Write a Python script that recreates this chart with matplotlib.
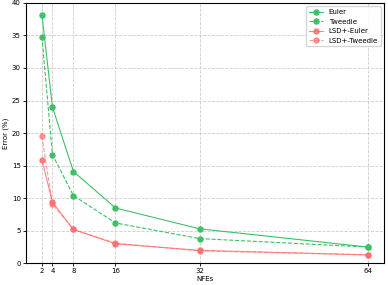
import matplotlib.pyplot as plt

plt.rcParams['font.family'] = 'DejaVu Sans'
plt.rcParams['font.size'] = 5

nfes = [2, 4, 8, 16, 32, 64]
euler = [38.2, 24.0, 14.1, 8.5, 5.3, 2.5]
tweedie = [34.8, 16.7, 10.4, 6.2, 3.8, 2.5]
lsd_euler = [15.9, 9.4, 5.2, 3.0, 2.0, 1.3]
lsd_tweedie = [19.5, 9.1, 5.2, 3.1, 1.9, 1.3]

green = '#3fc067'
red = '#ff7070'

fig, ax = plt.subplots(figsize=(3.88, 2.85), dpi=100)
ax.plot(nfes, euler, '-o', color=green, lw=0.8, ms=3.6, label='Euler')
ax.plot(nfes, tweedie, '--o', color=green, lw=0.8, ms=3.6, label='Tweedie')
ax.plot(nfes, lsd_euler, '-o', color=red, lw=0.8, ms=3.6, alpha=0.85, label='LSD+-Euler')
ax.plot(nfes, lsd_tweedie, '--o', color=red, lw=0.8, ms=3.6, alpha=0.7, label='LSD+-Tweedie')

ax.set_xticks(nfes)
ax.set_ylim(0, 40)
ax.set_xlabel('NFEs', labelpad=1.5)
ax.set_ylabel('Error (%)', labelpad=2)
ax.grid(True, linestyle='--', color='#cccccc', lw=0.6)
ax.tick_params(length=2, width=0.6, pad=1.5)
for s in ax.spines.values():
    s.set_linewidth(0.8)
ax.legend(loc='upper right', fontsize=5)

plt.subplots_adjust(left=0.066, right=0.99, top=0.99, bottom=0.076)
plt.savefig('out.png')
